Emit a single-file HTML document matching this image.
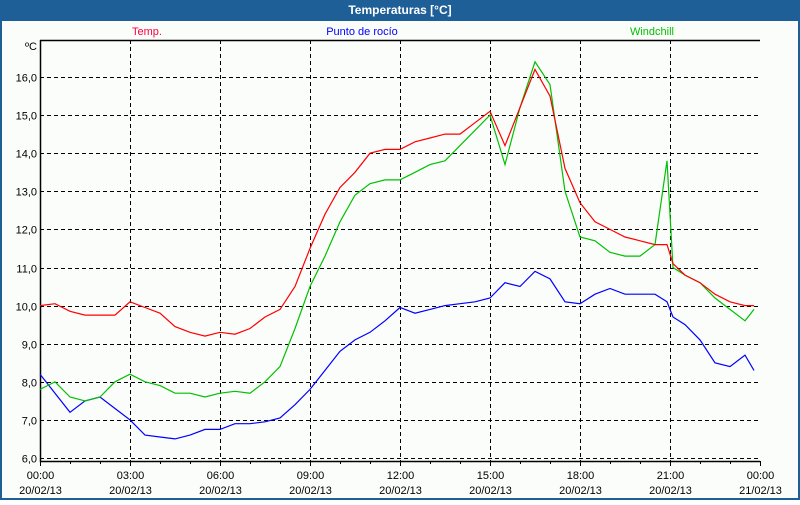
<!DOCTYPE html>
<html><head><meta charset="utf-8"><style>
body{margin:0;background:#fff;}
#wrap{position:relative;width:800px;height:500px;font-family:"Liberation Sans",sans-serif;}
svg text{font-family:"Liberation Sans",sans-serif;}
</style></head><body>
<div id="wrap">
<svg id="chart" width="800" height="500">
<rect x="0" y="0" width="800" height="500" fill="#1f5f98"/>
<rect x="2" y="21" width="796" height="477" fill="#fbfdfb"/>
<text x="400" y="14" text-anchor="middle" font-size="12" font-weight="bold" fill="#fff">Temperaturas [°C]</text>
<text x="147" y="35" text-anchor="middle" font-size="11" fill="#ff0040">Temp.</text>
<text x="362" y="35" text-anchor="middle" font-size="11" fill="#0000ff">Punto de rocío</text>
<text x="652" y="35" text-anchor="middle" font-size="11" fill="#00c000">Windchill</text>
<text x="37" y="50" text-anchor="end" font-size="11" fill="#000">ºC</text>
<g id="grid"></g><g id="series"></g>
</svg>
</div>
<script>
const hours=[0,0.5,1,1.5,2,2.5,3,3.5,4,4.5,5,5.5,6,6.5,7,7.5,8,8.5,9,9.5,10,10.5,11,11.5,12,12.5,13,13.5,14,14.5,15,15.5,16,16.5,17,17.5,18,18.5,19,19.5,20,20.5,20.9,21.1,21.5,22,22.5,23,23.5,23.8];
const temp=[10.0,10.05,9.85,9.75,9.75,9.75,10.1,9.95,9.8,9.45,9.3,9.2,9.3,9.25,9.4,9.7,9.9,10.5,11.5,12.4,13.1,13.5,14.0,14.1,14.1,14.3,14.4,14.5,14.5,14.8,15.1,14.2,15.2,16.2,15.5,13.6,12.7,12.2,12.0,11.8,11.7,11.6,11.6,11.1,10.8,10.6,10.3,10.1,10.0,10.0];
const dew=[8.2,7.7,7.2,7.5,7.6,7.3,7.0,6.6,6.55,6.5,6.6,6.75,6.75,6.9,6.9,6.95,7.05,7.4,7.8,8.3,8.8,9.1,9.3,9.6,9.95,9.8,9.9,10.0,10.05,10.1,10.2,10.6,10.5,10.9,10.7,10.1,10.05,10.3,10.45,10.3,10.3,10.3,10.1,9.7,9.5,9.1,8.5,8.4,8.7,8.3];
const chill=[7.8,8.0,7.6,7.5,7.6,8.0,8.2,8.0,7.9,7.7,7.7,7.6,7.7,7.75,7.7,8.0,8.4,9.4,10.5,11.3,12.2,12.9,13.2,13.3,13.3,13.5,13.7,13.8,14.2,14.6,15.0,13.7,15.2,16.4,15.8,13.0,11.8,11.7,11.4,11.3,11.3,11.6,13.8,11.0,10.8,10.6,10.2,9.9,9.6,9.9];
const yTicks=[6,7,8,9,10,11,12,13,14,15,16];
const xTickHours=[0,3,6,9,12,15,18,21,24];
const xTimeLabels=["00:00","03:00","06:00","09:00","12:00","15:00","18:00","21:00","00:00"];
const xDateLabels=["20/02/13","20/02/13","20/02/13","20/02/13","20/02/13","20/02/13","20/02/13","20/02/13","21/02/13"];
const L=40,R=760,T=40,B=461;
const xs=h=>L+h*(R-L)/24;
const ys=v=>458-(v-6)*38.1;
const NS="http://www.w3.org/2000/svg";
const grid=document.getElementById('grid'),ser=document.getElementById('series');
function mk(tag,attrs,parent){const e=document.createElementNS(NS,tag);for(const k in attrs)e.setAttribute(k,attrs[k]);parent.appendChild(e);return e;}
yTicks.forEach(v=>{
 const y=Math.round(ys(v))+0.5;
 const l=mk('line',{x1:L,x2:R,y1:y,y2:y,stroke:'#000','stroke-dasharray':'4,3'},grid);
 
 
 const t=mk('text',{x:37,y:y+4,'text-anchor':'end','font-size':11},grid);
 t.textContent=v.toFixed(1).replace('.',',');
 
 
});
xTickHours.forEach((h,i)=>{
 const x=Math.round(xs(h))+0.5;
 if(i>0&&i<xTickHours.length-1){const l=mk('line',{x1:x,x2:x,y1:T,y2:B,stroke:'#000','stroke-dasharray':'4,3'},grid);
 
 }
 const t=mk('text',{x:x,y:479,'text-anchor':'middle','font-size':11},grid);
 t.textContent=xTimeLabels[i];
 
 
 const d=mk('text',{x:x,y:494,'text-anchor':'middle','font-size':11},grid);
 d.textContent=xDateLabels[i];
 
 
});
for(let h=0;h<=24;h++){const x=Math.round(xs(h))+0.5;const tk=mk('line',{x1:x,x2:x,y1:B,y2:B+(h%3==0?5:3),stroke:'#000'},grid);
 
 }
const ax=mk('path',{d:`M${L+0.5},${T} V${B+0.5} H${R} M${L},${T+0.5} H${R}`,stroke:'#000',fill:'none','stroke-width':1.5},grid);


function line(vals,color,name){
 const d=vals.map((v,i)=>(i?'L':'M')+xs(hours[i]).toFixed(1)+','+ys(v).toFixed(1)).join(' ');
 const p=mk('path',{d:d,stroke:color,fill:'none','stroke-width':1.2},ser);
 
 
}
line(dew,'#0000ff','dew-point-line');
line(chill,'#00c000','windchill-line');
line(temp,'#ff0000','temp-line');
</script>
</body></html>
